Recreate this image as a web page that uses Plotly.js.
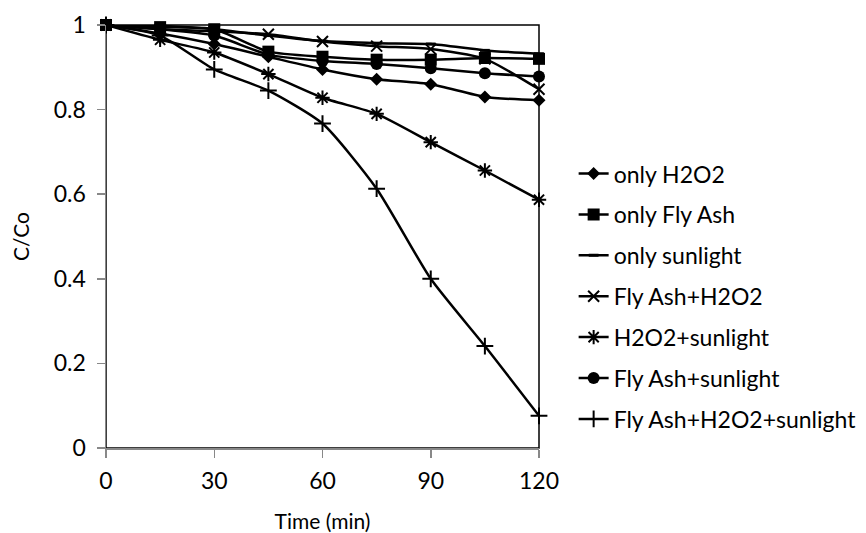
<!DOCTYPE html>
<html>
<head>
<meta charset="utf-8">
<script src="https://cdn.plot.ly/plotly-3.0.1.min.js"></script>
<style>
  html, body { margin: 0; padding: 0; background: #fff; }
  #chart { width: 866px; height: 533px; }
</style>
</head>
<body>
<div id="chart"></div>
<script>
// Irradiation time (min)
const timeMin = [0, 15, 30, 45, 60, 75, 90, 105, 120];

// C/Co for each treatment
const onlyH2O2       = [1, 0.980, 0.955, 0.925, 0.895, 0.872, 0.860, 0.830, 0.822];
const onlyFlyAsh     = [1, 0.995, 0.990, 0.937, 0.925, 0.918, 0.918, 0.922, 0.920];
const onlySunlight   = [1, 0.998, 0.990, 0.975, 0.962, 0.957, 0.955, 0.940, 0.932];
const flyAshH2O2     = [1, 0.990, 0.985, 0.978, 0.961, 0.950, 0.943, 0.920, 0.848];
const h2o2Sunlight   = [1, 0.965, 0.935, 0.884, 0.828, 0.790, 0.723, 0.656, 0.587];
const flyAshSunlight = [1, 0.990, 0.975, 0.930, 0.915, 0.908, 0.898, 0.886, 0.878];
const flyAshH2O2Sun  = [1, 0.975, 0.895, 0.845, 0.767, 0.613, 0.400, 0.241, 0.076];

const seriesNames = [
  'only H2O2', 'only Fly Ash', 'only sunlight', 'Fly Ash+H2O2',
  'H2O2+sunlight', 'Fly Ash+sunlight', 'Fly Ash+H2O2+sunlight'
];
const seriesValues = [
  onlyH2O2, onlyFlyAsh, onlySunlight, flyAshH2O2,
  h2o2Sunlight, flyAshSunlight, flyAshH2O2Sun
];

const xTicks = [0, 30, 60, 90, 120];
const yTicks = [0, 0.2, 0.4, 0.6, 0.8, 1];

// marker style per series
const markerStyles = [
  { symbol: 'diamond', size: 10 },
  { symbol: 'square', size: 12 },
  { symbol: 'line-ew-open', size: 7, line: { width: 3, color: '#000' } },
  { symbol: 'x-thin-open', size: 11, line: { width: 2, color: '#000' } },
  { symbol: 'asterisk-open', size: 12, line: { width: 2, color: '#000' } },
  { symbol: 'circle', size: 12 },
  { symbol: 'cross-thin-open', size: 12, line: { width: 2, color: '#000' } }
];

const traces = seriesNames.map((name, i) => ({
  type: 'scatter',
  mode: 'lines+markers',
  name: name,
  legendgroup: 'g' + i,
  x: timeMin,
  y: seriesValues[i],
  line: { color: '#000', width: 2.5, shape: 'spline', smoothing: 0.6 },
  marker: Object.assign({ color: '#000' }, markerStyles[i]),
  cliponaxis: false
}));

const FONT = 'Lato, "Open Sans", sans-serif';

const layout = {
  width: 866,
  height: 533,
  margin: { l: 105.5, r: 326.5, t: 24.5, b: 85.3, autoexpand: false },
  paper_bgcolor: '#fff',
  plot_bgcolor: '#fff',
  font: { family: FONT, size: 23, color: '#000' },
  showlegend: true,
  legend: {
    x: 1.08, xanchor: 'left',
    y: 0.358, yanchor: 'middle',
    traceorder: 'grouped',
    tracegroupgap: 8,
    font: { family: FONT, size: 23, color: '#000' },
    bgcolor: 'rgba(0,0,0,0)'
  },
  xaxis: {
    range: [0, 120],
    tickvals: xTicks,
    ticktext: xTicks.map(String),
    ticks: 'outside', ticklen: 8, tickwidth: 1.5, tickcolor: '#888',
    showline: true, linecolor: '#888', linewidth: 1.5,
    showgrid: false, zeroline: false,
    ticklabelstandoff: 4,
    title: { text: 'Time (min)', font: { size: 21 }, standoff: 24 }
  },
  yaxis: {
    range: [0, 1],
    tickvals: yTicks,
    ticktext: yTicks.map(String),
    ticks: 'outside', ticklen: 8, tickwidth: 1.5, tickcolor: '#888',
    showline: true, linecolor: '#888', linewidth: 1.5,
    showgrid: false, zeroline: false,
    ticklabelstandoff: 6,
    title: { text: 'C/Co', font: { size: 21 }, standoff: 18 }
  },
  shapes: [{
    type: 'rect', xref: 'paper', yref: 'paper',
    x0: 0, x1: 1, y0: 0, y1: 1,
    line: { color: '#000', width: 1.5 },
    layer: 'below'
  }]
};

Plotly.newPlot('chart', traces, layout, { staticPlot: true, displayModeBar: false });
</script>
</body>
</html>
